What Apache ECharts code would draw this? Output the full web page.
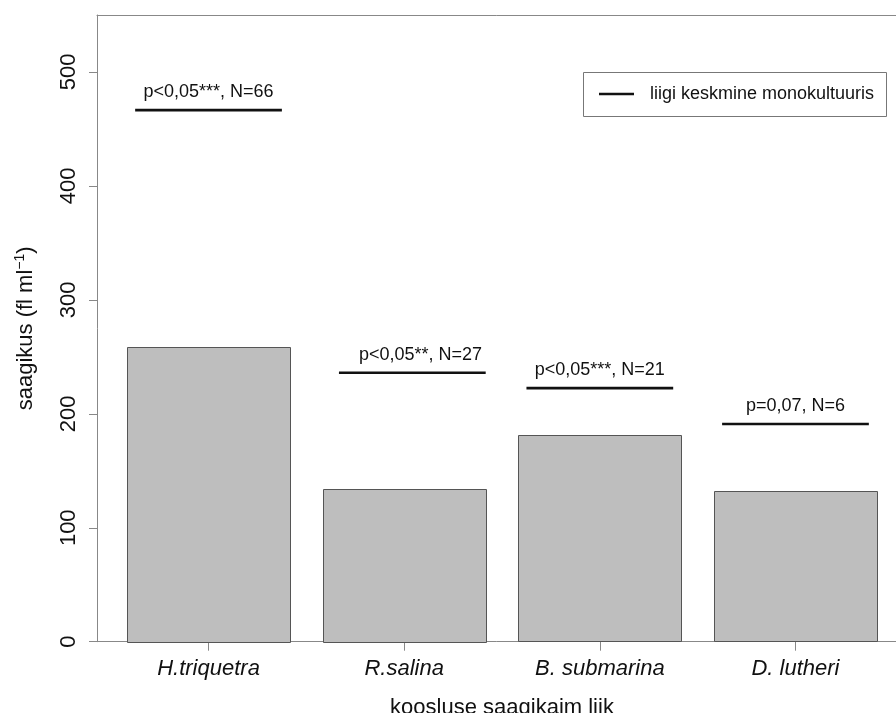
<!DOCTYPE html>
<html>
<head>
<meta charset="utf-8">
<script src="https://cdn.jsdelivr.net/npm/echarts@6/dist/echarts.min.js"></script>
<style>
html,body{margin:0;padding:0;background:#fff;}
#chart{width:896px;height:713px;}
</style>
</head>
<body>
<div id="chart"></div>
<script>
// ---- data ----
const categories = ['H.triquetra', 'R.salina', 'B. submarina', 'D. lutheri'];
const barPositions = [0.7, 1.9, 3.1, 4.3];
const yieldValues = [259, 134, 181, 132];
const monoMeans = [466.5, 236, 222.5, 191];
const meanStart = [0.25, 1.5, 2.65, 3.85];
const meanEnd = [1.15, 2.4, 3.55, 4.75];
const annotations = ['p<0,05***, N=66', 'p<0,05**, N=27', 'p<0,05***, N=21', 'p=0,07, N=6'];
const annotationX = [0.7, 2.0, 3.1, 4.3];
const yTicks = [0, 100, 200, 300, 400, 500];
const legendText = 'liigi keskmine monokultuuris';
const xTitle = 'koosluse saagikaim liik';

const FONT = '"Liberation Sans", Arial, Helvetica, sans-serif';
const chart = echarts.init(document.getElementById('chart'), null, {renderer: 'canvas'});

const barData = barPositions.map((x, i) => [x, yieldValues[i]]);
const meanData = monoMeans.map((m, i) => [meanStart[i], meanEnd[i], m, annotationX[i], i]);

const X_MIN = 0.016, X_MAX = 4.984;

const option = {
  animation: false,
  backgroundColor: '#fff',
  grid: {left: 97, top: 15, width: 810, height: 626.7, show: false, outerBoundsMode: 'none', containLabel: false},
  xAxis: [{
    type: 'value', min: X_MIN, max: X_MAX,
    name: xTitle, nameLocation: 'middle', nameGap: 55,
    nameTextStyle: {fontFamily: FONT, fontSize: 22, color: '#111'},
    axisLine: {show: true, lineStyle: {color: '#888'}},
    axisTick: {show: true, customValues: barPositions, length: 9, lineStyle: {color: '#888'}},
    axisLabel: {
      customValues: barPositions, margin: 16,
      fontFamily: FONT, fontSize: 22, fontStyle: 'italic', color: '#111',
      formatter: v => { const i = barPositions.indexOf(v); return i >= 0 ? categories[i] : ''; }
    },
    splitLine: {show: false}
  }, {
    type: 'value', min: X_MIN, max: X_MAX, position: 'top',
    axisLine: {show: true, lineStyle: {color: '#888'}},
    axisTick: {show: false}, axisLabel: {show: false}, splitLine: {show: false}
  }],
  yAxis: {
    type: 'value', min: 0, max: 550,
    name: '{t|saagikus (fl ml}{s|−1}{t|)}', nameLocation: 'middle', nameGap: 60,
    nameTextStyle: {
      fontFamily: FONT, fontSize: 22, color: '#111',
      rich: {
        t: {fontFamily: FONT, fontSize: 22, color: '#111', verticalAlign: 'bottom'},
        s: {fontFamily: FONT, fontSize: 14, color: '#111', verticalAlign: 'top', padding: [0, 0, 10, 0]}
      }
    },
    axisLine: {show: true, lineStyle: {color: '#888'}},
    axisTick: {show: true, customValues: yTicks, length: 8, lineStyle: {color: '#888'}},
    axisLabel: {customValues: yTicks, rotate: 90, margin: 17, fontFamily: FONT, fontSize: 22, color: '#111'},
    splitLine: {show: false}
  },
  series: [
    {
      type: 'custom',
      data: barData,
      renderItem: function (params, api) {
        const x = api.value(0), y = api.value(1);
        const p0 = api.coord([x - 0.5, 0]);
        const p1 = api.coord([x + 0.5, y]);
        return {
          type: 'rect',
          shape: {x: Math.round(p0[0]) + 0.5, y: Math.round(p1[1]) + 0.5, width: Math.round(p1[0] - p0[0]), height: Math.round(p0[1] - p1[1])},
          style: {fill: '#bebebe', stroke: '#555', lineWidth: 1}
        };
      }
    },
    {
      type: 'custom',
      data: meanData,
      z: 5,
      renderItem: function (params, api) {
        const a = api.coord([api.value(0), api.value(2)]);
        const b = api.coord([api.value(1), api.value(2)]);
        const t = api.coord([api.value(3), api.value(2)]);
        const idx = api.value(4);
        return {
          type: 'group',
          children: [
            {type: 'line', shape: {x1: a[0], y1: a[1], x2: b[0], y2: b[1]}, style: {stroke: '#111', lineWidth: 2.6}},
            {type: 'text', style: {x: t[0], y: t[1] - 18, text: annotations[idx], align: 'center', verticalAlign: 'middle', font: '18px ' + FONT, fill: '#111'}}
          ]
        };
      }
    }
  ],
  graphic: [
    {type: 'rect', shape: {x: 583.5, y: 72.5, width: 303, height: 44}, style: {fill: '#fff', stroke: '#777', lineWidth: 1}, z: 10},
    {type: 'line', shape: {x1: 599, y1: 94, x2: 634, y2: 94}, style: {stroke: '#111', lineWidth: 2.4}, z: 11},
    {type: 'text', style: {x: 650, y: 94, text: legendText, font: '18px ' + FONT, fill: '#111', verticalAlign: 'middle', align: 'left'}, z: 11}
  ]
};
chart.setOption(option);
</script>
</body>
</html>
